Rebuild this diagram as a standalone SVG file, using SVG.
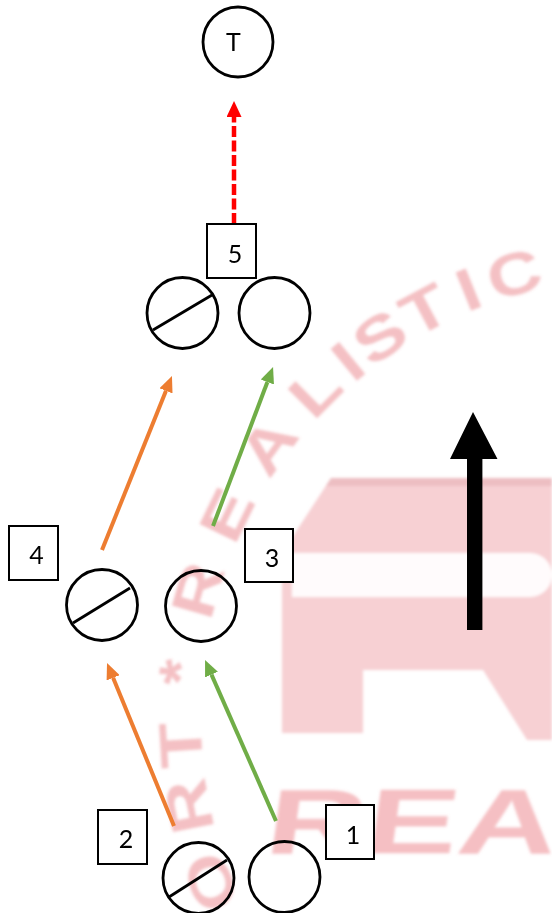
<svg xmlns="http://www.w3.org/2000/svg" width="552" height="913" viewBox="0 0 552 913">
  <style>
    .ring { fill: none; stroke: #000; stroke-width: 2.8; }
    .slash { stroke: #000; stroke-width: 2.8; stroke-linecap: butt; }
    .box { fill: #fff; stroke: #000; stroke-width: 2; }
    .num { font-family: Lato, "Liberation Sans", sans-serif; font-size: 25px; fill: #000; text-anchor: middle; }
    .orange { stroke: #ED7D31; stroke-width: 4; fill: none; }
    .green { stroke: #70AD47; stroke-width: 4; fill: none; }
    .red { stroke: #FF0000; stroke-width: 4.5; fill: none; stroke-dasharray: 11 3.5; }
    .wm { font-family: "Liberation Sans", Arial, sans-serif; font-weight: bold; font-size: 60px; fill: #e25a65; fill-opacity: 0.38; text-anchor: middle; dominant-baseline: central; }
  </style>
  <defs>
    <filter id="soft" x="-10%" y="-10%" width="120%" height="120%">
      <feGaussianBlur stdDeviation="1.8"/>
    </filter>
    <marker id="headOrange" viewBox="0 0 16 14" refX="0" refY="7" markerWidth="16" markerHeight="14" markerUnits="userSpaceOnUse" orient="auto">
      <path d="M0,0 L16,7 L0,14 Z" fill="#ED7D31"/>
    </marker>
    <marker id="headGreen" viewBox="0 0 16 14" refX="0" refY="7" markerWidth="16" markerHeight="14" markerUnits="userSpaceOnUse" orient="auto">
      <path d="M0,0 L16,7 L0,14 Z" fill="#70AD47"/>
    </marker>
    <marker id="headRed" viewBox="0 0 16 15" refX="0" refY="7.5" markerWidth="16" markerHeight="15" markerUnits="userSpaceOnUse" orient="auto">
      <path d="M0,0 L16,7.5 L0,15 Z" fill="#FF0000"/>
    </marker>
  </defs>

  <rect width="552" height="913" fill="#fff"/>

  <!-- faint background logo -->
  <g id="backdrop" filter="url(#soft)">
    <path d="M331,478 H552 V740 H527 L483,670 H363 V733 H282 V553 Z" fill="#f4bcc0" fill-opacity="0.7"/>
    <path d="M331,478 H552 V486 H326 Z" fill="#d99aa0" fill-opacity="0.35"/>
    <path d="M292,553 H530 A22,22 0 0 1 530,597 H292 Z" fill="#fff" fill-opacity="0.92"/>
    <text class="wm" transform="translate(210.6,882.2) rotate(249) scale(1.25,1)">O</text>
    <text class="wm" transform="translate(188.8,806.5) rotate(258.8) scale(1.25,1)">R</text>
    <text class="wm" transform="translate(180.9,745.1) rotate(266.5) scale(1.25,1)">T</text>
    <text class="wm" transform="translate(180,672.8) rotate(275.5) scale(1.1,1)">*</text>
    <text class="wm" transform="translate(197.8,589.9) rotate(286) scale(1.25,1)">R</text>
    <text class="wm" transform="translate(226.7,514.9) rotate(296) scale(1.25,1)">E</text>
    <text class="wm" transform="translate(268,446) rotate(306) scale(1.25,1)">A</text>
    <text class="wm" transform="translate(315,391) rotate(315) scale(1.25,1)">L</text>
    <text class="wm" transform="translate(347.8,361.3) rotate(320.5) scale(1.25,1)">I</text>
    <text class="wm" transform="translate(379.9,337.1) rotate(325.5) scale(1.25,1)">S</text>
    <text class="wm" transform="translate(424.6,310) rotate(332) scale(1.25,1)">T</text>
    <text class="wm" transform="translate(468.3,289.6) rotate(338) scale(1.25,1)">I</text>
    <text class="wm" transform="translate(513.9,273.8) rotate(344) scale(1.25,1)">C</text>
    <text transform="translate(263,853) skewX(-8) scale(1.5,1)" font-family="Liberation Sans, Arial, sans-serif" font-weight="bold" font-size="92" fill="#e8707a" fill-opacity="0.45">REA</text>
  </g>

  <!-- connectors -->
  <g id="connectors">
    <line class="red" x1="234" y1="224" x2="234" y2="117" marker-end="url(#headRed)"/>
    <line class="orange" x1="174" y1="826" x2="113.1" y2="677.8" marker-end="url(#headOrange)"/>
    <line class="green" x1="276" y1="821" x2="211.5" y2="674.6" marker-end="url(#headGreen)"/>
    <line class="orange" x1="102" y1="550" x2="166" y2="390.8" marker-end="url(#headOrange)"/>
    <line class="green" x1="213" y1="526" x2="267.4" y2="382" marker-end="url(#headGreen)"/>
  </g>

  <!-- direction arrow -->
  <g id="upArrow">
    <polygon points="473,412 497.5,459 482.4,459 482.4,630 467,630 467,459 450,459" fill="#000"/>
  </g>

  <g id="nodeT">
    <circle class="ring" cx="238" cy="42" r="35"/>
    <text class="num" x="233.5" y="51">T</text>
  </g>

  <g id="stage5">
    <rect class="box" x="207" y="224" width="49" height="54"/>
    <text class="num" x="235" y="263">5</text>
    <circle class="ring" cx="182.5" cy="313" r="35.5"/>
    <line class="slash" x1="153" y1="330" x2="212" y2="295"/>
    <circle class="ring" cx="274.5" cy="313" r="35.5"/>
  </g>

  <g id="stage4">
    <rect class="box" x="9" y="526" width="49" height="54"/>
    <text class="num" x="36.5" y="564">4</text>
    <circle class="ring" cx="102" cy="605" r="35.5"/>
    <line class="slash" x1="73" y1="623" x2="130" y2="588"/>
  </g>

  <g id="stage3">
    <rect class="box" x="245" y="529" width="48" height="53"/>
    <text class="num" x="272" y="567">3</text>
    <circle class="ring" cx="201" cy="606" r="35.5"/>
  </g>

  <g id="stage2">
    <rect class="box" x="98" y="810" width="49" height="54"/>
    <text class="num" x="126" y="848">2</text>
    <circle class="ring" cx="198.5" cy="878" r="35.5"/>
    <line class="slash" x1="169" y1="897" x2="227" y2="860"/>
  </g>

  <g id="stage1">
    <rect class="box" x="326" y="805" width="48" height="54"/>
    <text class="num" x="353" y="844">1</text>
    <circle class="ring" cx="284.5" cy="877" r="35.5"/>
  </g>
</svg>
